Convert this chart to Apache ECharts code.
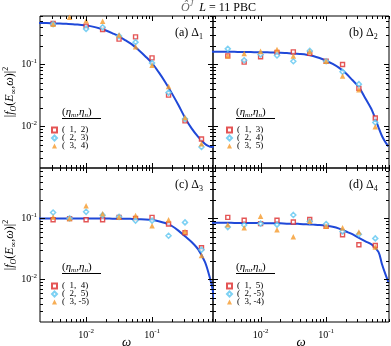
<!DOCTYPE html>
<html>
<head>
<meta charset="utf-8">
<script src="https://cdn.jsdelivr.net/npm/echarts@6/dist/echarts.min.js"></script>
<style>
html, body { margin: 0; padding: 0; background: #fff; }
#main { width: 391px; height: 346px; }
</style>
</head>
<body>
<div id="main"></div>
<script>
// omega values of the sampled points (same for all panels)
var omega = [0.00316, 0.00562, 0.01, 0.0178, 0.0316, 0.0562, 0.1, 0.178, 0.316, 0.562];

var curveOmega = [0.00178, 0.002, 0.00251, 0.00316, 0.00398, 0.00501, 0.00631, 0.00794, 0.01, 0.0126,
    0.0158, 0.02, 0.0251, 0.0316, 0.0398, 0.0501, 0.0631, 0.0794, 0.1, 0.126,
    0.158, 0.2, 0.251, 0.316, 0.398, 0.501, 0.631, 0.708, 0.794, 0.891];

var curveA = [0.47, 0.47, 0.47, 0.465, 0.46, 0.455, 0.45, 0.44, 0.43, 0.41,
    0.385, 0.355, 0.32, 0.285, 0.245, 0.21, 0.17, 0.135, 0.105, 0.075,
    0.052, 0.034, 0.022, 0.0137, 0.0092, 0.0067, 0.0052, 0.0048, 0.0046, 0.0047];
var curveB = [0.16, 0.16, 0.16, 0.16, 0.16, 0.159, 0.159, 0.158, 0.158, 0.157,
    0.156, 0.155, 0.153, 0.151, 0.148, 0.144, 0.137, 0.127, 0.115, 0.102,
    0.088, 0.072, 0.056, 0.043, 0.028, 0.018, 0.0095, 0.007, 0.0056, 0.0047];
var curveC = [0.1, 0.1, 0.1, 0.1, 0.1, 0.1, 0.1, 0.1, 0.1, 0.1,
    0.1, 0.1, 0.099, 0.099, 0.099, 0.098, 0.097, 0.096, 0.094, 0.09,
    0.084, 0.075, 0.063, 0.051, 0.041, 0.031, 0.0195, 0.0135, 0.0085, 0.0045];
var curveD = [0.085, 0.085, 0.085, 0.085, 0.084, 0.084, 0.084, 0.084, 0.084, 0.083,
    0.083, 0.083, 0.082, 0.082, 0.081, 0.08, 0.079, 0.078, 0.076, 0.073,
    0.068, 0.061, 0.055, 0.048, 0.042, 0.037, 0.028, 0.018, 0.0125, 0.009];

// (a) Delta_1
var sqA = [0.46, null, 0.418, 0.369, 0.257, 0.28, 0.128, 0.0319, 0.0122, 0.0062];
var diA = [0.45, null, 0.377, 0.40, 0.288, 0.23, 0.106, 0.035, 0.0131, 0.0046];
var trA = [0.45, 0.58, 0.51, 0.50, 0.30, 0.193, 0.097, 0.044, 0.0138, 0.0052];
// (b) Delta_2
var sqB = [0.138, 0.109, 0.133, 0.157, 0.16, 0.151, 0.113, 0.10, 0.041, 0.0136];
var diB = [0.179, 0.117, 0.145, 0.14, 0.113, 0.166, 0.113, 0.076, 0.048, 0.0115];
var trB = [0.137, 0.151, 0.164, 0.175, 0.137, 0.162, 0.113, 0.065, 0.039, 0.0098];
// (c) Delta_3
var sqC = [0.095, 0.099, 0.095, 0.095, 0.104, 0.10, 0.104, 0.081, 0.058, 0.033];
var diC = [0.125, 0.10, 0.128, 0.113, 0.106, 0.092, 0.092, 0.052, 0.086, 0.0305];
var trC = [0.105, 0.10, 0.161, 0.119, 0.105, 0.112, 0.076, 0.095, 0.061, 0.0246];
// (d) Delta_4
var sqD = [0.104, 0.093, 0.082, 0.093, 0.087, 0.096, 0.074, 0.054, 0.037, 0.036];
var diD = [0.072, 0.078, 0.082, 0.079, 0.114, 0.089, 0.081, 0.061, 0.055, 0.047];
var trD = [0.079, 0.07, 0.108, 0.065, 0.05, 0.09, 0.074, 0.07, 0.06, 0.034];

var namesA = ['(  1,  2)', '(  2,  3)', '(  3,  4)'];
var namesB = ['(  1,  3)', '(  2,  4)', '(  3,  5)'];
var namesC = ['(  1,  4)', '(  2,  5)', '(  3, -5)'];
var namesD = ['(  1,  5)', '(  2, -5)', '(  3, -4)'];
var panelLabels = ['(a) ', '(b) ', '(c) ', '(d) '];
var panelIdx = ['1', '2', '3', '4'];

var majorTicks = [0.01, 0.1];
var tickDecades = [0.001, 0.01, 0.1];
var minorMult = [2, 3, 4, 5, 6, 7, 8, 9];

var F = "'Liberation Serif', 'DejaVu Serif', serif";
var RED = '#dd2a2a', CYAN = '#5cc6f0', ORANGE = '#f59a2a', BLUE = '#1f48d8';

var grids = [
    {left: 40, top: 16, width: 173, height: 152},
    {left: 213, top: 16, width: 176, height: 152},
    {left: 40, top: 168, width: 173, height: 154},
    {left: 213, top: 168, width: 176, height: 154}
];
var xRange = [[0.002, 0.84], [0.00188, 0.91], [0.002, 0.84], [0.00188, 0.91]];
var yRange = [[0.0021, 0.61], [0.0021, 0.61], [0.002, 0.67], [0.002, 0.67]];

function pts(vals) {
    var out = [];
    for (var k = 0; k < vals.length; k++) {
        if (vals[k] != null) out.push([omega[k], vals[k]]);
    }
    return out;
}

function curvePts(vals) {
    return curveOmega.map(function (w, k) { return [w, vals[k]]; });
}

function buildTicks(xr, yr) {
    var t = [];
    majorTicks.forEach(function (v) {
        if (v > xr[0] && v < xr[1]) t.push([v, 0.05, 0]);
        if (v > yr[0] && v < yr[1]) t.push([0.05, v, 2]);
    });
    tickDecades.forEach(function (d) {
        minorMult.forEach(function (m) {
            var v = d * m;
            if (v > xr[0] && v < xr[1]) t.push([v, 0.05, 1]);
            if (v > yr[0] && v < yr[1]) t.push([0.05, v, 3]);
        });
    });
    return t;
}

function renderTick(params, api) {
    var cs = params.coordSys;
    var p = api.coord([api.value(0), api.value(1)]);
    var kind = api.value(2);
    var len = kind % 2 === 0 ? 5 : 3;
    var st = {stroke: '#000', lineWidth: 1};
    if (kind < 2) {
        var x = Math.round(p[0]) + 0.5;
        return {type: 'group', children: [
            {type: 'line', shape: {x1: x, y1: cs.y + cs.height, x2: x, y2: cs.y + cs.height - len}, style: st},
            {type: 'line', shape: {x1: x, y1: cs.y, x2: x, y2: cs.y + len}, style: st}
        ]};
    }
    var y = Math.round(p[1]) + 0.5;
    return {type: 'group', children: [
        {type: 'line', shape: {x1: cs.x, y1: y, x2: cs.x + len, y2: y}, style: st},
        {type: 'line', shape: {x1: cs.x + cs.width, y1: y, x2: cs.x + cs.width - len, y2: y}, style: st}
    ]};
}

function powLabel(v) {
    var e = Math.log(v) / Math.LN10;
    var r = Math.round(e);
    if (Math.abs(e - r) > 1e-6) return '';
    return '{b|10}{s|' + r + '}';
}

var labelRich = {
    b: {fontFamily: F, fontSize: 10, lineHeight: 14, color: '#000'},
    s: {fontFamily: F, fontSize: 7, lineHeight: 8, verticalAlign: 'top', color: '#000'}
};

var nameRich = {
    t: {fontFamily: F, fontSize: 12, lineHeight: 16, color: '#000'},
    i: {fontFamily: F, fontSize: 12, lineHeight: 16, fontStyle: 'italic', color: '#000'},
    sb: {fontFamily: F, fontSize: 8, lineHeight: 8, fontStyle: 'italic', verticalAlign: 'bottom', color: '#000'},
    sp: {fontFamily: F, fontSize: 8, lineHeight: 8, verticalAlign: 'top', color: '#000'}
};

var chart = echarts.init(document.getElementById('main'));

var xAxes = [], yAxes = [], series = [], legends = [], graphics = [];
var allData = [[curveA, sqA, diA, trA, namesA], [curveB, sqB, diB, trB, namesB],
    [curveC, sqC, diC, trC, namesC], [curveD, sqD, diD, trD, namesD]];

for (var i = 0; i < 4; i++) {
    grids[i].show = true;
    grids[i].borderColor = '#000';
    grids[i].borderWidth = 1;
    grids[i].outerBoundsMode = 'none';
    grids[i].containLabel = false;

    xAxes.push({
        type: 'log', gridIndex: i, min: xRange[i][0], max: xRange[i][1],
        axisLine: {show: false}, axisTick: {show: false}, splitLine: {show: false},
        axisLabel: {show: i >= 2, margin: 6, formatter: powLabel, rich: labelRich},
        name: i >= 2 ? 'ω' : '', nameLocation: 'middle', nameGap: 14, nameMoveOverlap: false,
        nameTextStyle: {fontFamily: F, fontSize: 13, fontStyle: 'italic', color: '#000'}
    });
    yAxes.push({
        type: 'log', gridIndex: i, min: yRange[i][0], max: yRange[i][1],
        axisLine: {show: false}, axisTick: {show: false}, splitLine: {show: false},
        axisLabel: {show: i % 2 === 0, margin: 3, formatter: powLabel, rich: labelRich},
        name: i % 2 === 0 ? '{t||}{i|f}{sb|O}{t|(}{i|E}{sb|∞}{t|,}{i|ω}{t|)|}{sp|2}' : '',
        nameLocation: 'middle', nameGap: 22, nameRotate: 90, nameMoveOverlap: false,
        nameTextStyle: {rich: nameRich}
    });

    var d = allData[i];
    series.push({
        type: 'line', xAxisIndex: i, yAxisIndex: i, data: curvePts(d[0]), smooth: 0.3,
        showSymbol: false, lineStyle: {color: BLUE, width: 2}, z: 2, silent: true
    });
    series.push({
        name: d[4][0], type: 'scatter', xAxisIndex: i, yAxisIndex: i, data: pts(d[1]),
        symbol: 'rect', symbolSize: 4,
        itemStyle: {color: '#fff', borderColor: RED, borderWidth: 1.4}, z: 3
    });
    series.push({
        name: d[4][1], type: 'scatter', xAxisIndex: i, yAxisIndex: i, data: pts(d[2]),
        symbol: 'diamond', symbolSize: 5,
        itemStyle: {color: '#fff', borderColor: CYAN, borderWidth: 1.5}, z: 3
    });
    series.push({
        name: d[4][2], type: 'scatter', xAxisIndex: i, yAxisIndex: i, data: pts(d[3]),
        symbol: 'triangle', symbolSize: 5.5,
        itemStyle: {color: ORANGE}, z: 3
    });
    series.push({
        type: 'custom', xAxisIndex: i, yAxisIndex: i, renderItem: renderTick,
        data: buildTicks(xRange[i], yRange[i]), silent: true, z: 6
    });

    var lx = i % 2 === 0 ? 51 : 226;
    var ly = i < 2 ? 125 : 281;
    legends.push({
        data: d[4], orient: 'vertical', left: lx, top: ly, padding: 0,
        itemWidth: 5, itemHeight: 5, itemGap: -2, selectedMode: false,
        textStyle: {fontFamily: F, fontSize: 9, lineHeight: 10, color: '#000'}
    });

    // legend header (eta_m, eta_n) with underline
    var hx = i % 2 === 0 ? 62 : 236;
    var hy = i < 2 ? 112 : 267;
    graphics.push({
        type: 'text', x: hx, y: hy,
        style: {
            text: '{p|(}{e|η}{s|m}{p|,}{e|η}{s|n}{p|)}', align: 'left', verticalAlign: 'middle',
            rich: {
                p: {fontFamily: F, fontSize: 11, lineHeight: 14, fill: '#000'},
                e: {fontFamily: F, fontSize: 11, lineHeight: 14, fontStyle: 'italic', fill: '#000'},
                s: {fontFamily: F, fontSize: 7, lineHeight: 7, fontStyle: 'italic', verticalAlign: 'bottom', fill: '#000'}
            }
        }
    });
    graphics.push({
        type: 'line', shape: {x1: hx, y1: hy + 6.5, x2: hx + 39, y2: hy + 6.5},
        style: {stroke: '#000', lineWidth: 1}
    });

    // panel label
    graphics.push({
        type: 'text', x: i % 2 === 0 ? 175 : 349, y: i < 2 ? 33 : 185,
        style: {
            text: '{t|' + panelLabels[i] + '}{t|Δ}{s|' + panelIdx[i] + '}', align: 'left', verticalAlign: 'middle',
            rich: {
                t: {fontFamily: F, fontSize: 12, lineHeight: 16, fill: '#000'},
                s: {fontFamily: F, fontSize: 8, lineHeight: 8, verticalAlign: 'bottom', fill: '#000'}
            }
        }
    });
}

// figure title
graphics.push({
    type: 'text', x: 181, y: 8,
    style: {
        text: '{o|Ô}{j|J}{t|  }{i|L}{t| = 11 PBC}', align: 'left', verticalAlign: 'middle',
        rich: {
            o: {fontFamily: F, fontSize: 12, lineHeight: 16, fontStyle: 'italic', fill: '#666'},
            j: {fontFamily: F, fontSize: 8, lineHeight: 8, fontStyle: 'italic', verticalAlign: 'top', fill: '#666'},
            t: {fontFamily: F, fontSize: 12, lineHeight: 16, fill: '#000'},
            i: {fontFamily: F, fontSize: 12, lineHeight: 16, fontStyle: 'italic', fill: '#000'}
        }
    }
});

var option = {
    animation: false,
    backgroundColor: '#fff',
    grid: grids,
    xAxis: xAxes,
    yAxis: yAxes,
    legend: legends,
    graphic: graphics,
    series: series
};
chart.setOption(option);
</script>
</body>
</html>
